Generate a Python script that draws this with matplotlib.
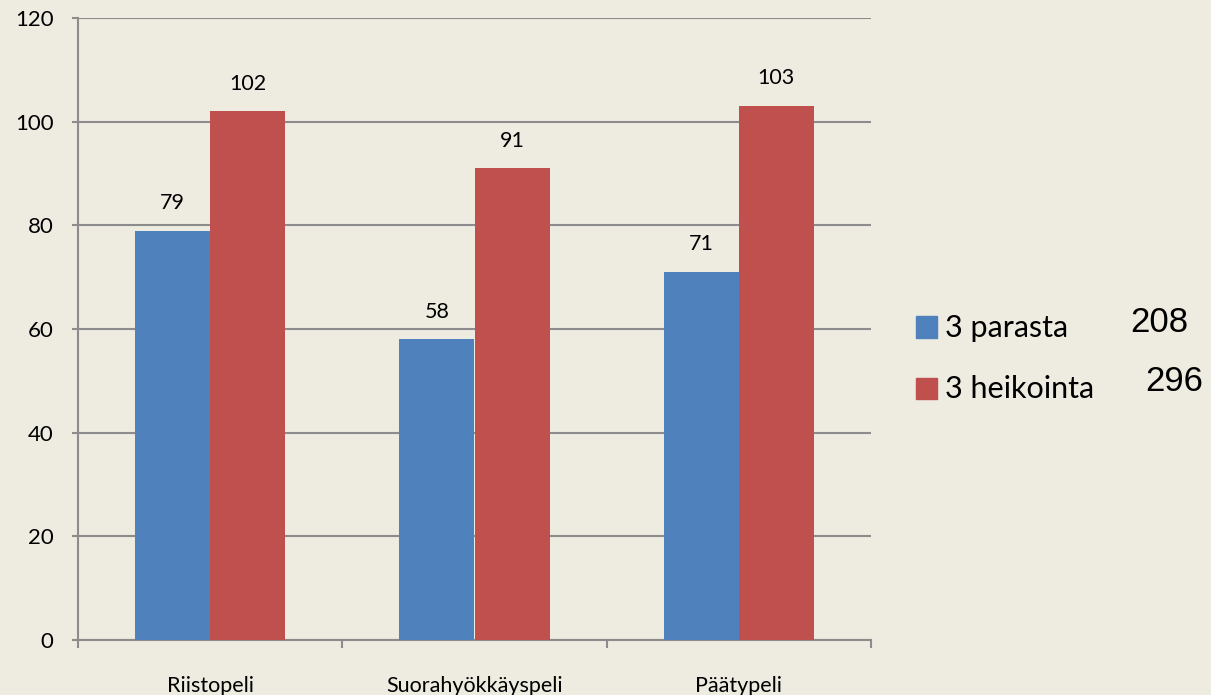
import numpy as np
import matplotlib.pyplot as plt
from matplotlib.patches import Rectangle

categories = ['Riistopeli', 'Suorahyökkäyspeli', 'Päätypeli']
series_names = ['3 parasta', '3 heikointa']
best = [79, 58, 71]
worst = [102, 91, 103]
totals = ['208', '296']

BG = '#EEEBE1'
BLUE = '#4F81BD'
RED = '#C0504D'
GRID = '#8C8C8C'
W, H = 1211, 695

plt.rcParams['font.family'] = ['Lato', 'DejaVu Sans']

fig = plt.figure(figsize=(W / 100, H / 100), dpi=100, facecolor=BG)
ax = fig.add_axes([78 / W, 55 / H, 793 / W, 622 / H])
ax.set_facecolor(BG)

x = np.arange(len(categories))
w = 0.284
b1 = ax.bar(x - w / 2, best, w, color=BLUE, zorder=3)
b2 = ax.bar(x + w / 2, worst, w, color=RED, zorder=3)

# value labels above bars
for bars, vals in [(b1, best), (b2, worst)]:
    for rect, v in zip(bars, vals):
        ax.annotate(str(v), (rect.get_x() + rect.get_width() / 2, v),
                    xytext=(0, 20), textcoords='offset points',
                    ha='center', va='center', fontsize=15.5, color='black')

ax.set_xlim(-0.5, 2.5)
ax.set_ylim(0, 120)
ax.set_yticks(range(0, 121, 20))
ax.yaxis.grid(True, color=GRID, linewidth=1.5, zorder=0)
ax.tick_params(axis='y', length=4.5, width=1.5, color=GRID, labelsize=16, pad=13)

# category ticks at boundaries, labels at centers
ax.set_xticks([-0.5, 0.5, 1.5, 2.5])
ax.set_xticklabels([])
ax.set_xticks(x, minor=True)
ax.set_xticklabels(categories, minor=True)
ax.tick_params(axis='x', which='major', length=6, width=1.5, color=GRID, direction='out')
ax.tick_params(axis='x', which='minor', length=0, labelsize=15.5, pad=26)

for s in ['top', 'right']:
    ax.spines[s].set_visible(False)
for s in ['left', 'bottom']:
    ax.spines[s].set_color(GRID)
    ax.spines[s].set_linewidth(1.5)

# legend drawn by hand in figure pixels
for i, (name, col) in enumerate(zip(series_names, [BLUE, RED])):
    yc = 327 + 61 * i
    fig.add_artist(Rectangle((916 / W, 1 - (yc + 10.5) / H), 21 / W, 21 / H,
                             transform=fig.transFigure, color=col))
    fig.text(945 / W, 1 - (yc + 1) / H, name, fontsize=22, ha='left', va='center')

fig.text(1130 / W, 1 - 322 / H, totals[0], fontsize=25,
         family='Liberation Sans', ha='left', va='center')
fig.text(1145 / W, 1 - 382 / H, totals[1], fontsize=25,
         family='Liberation Sans', ha='left', va='center')

fig.savefig('out.png', dpi=100, facecolor=BG)
